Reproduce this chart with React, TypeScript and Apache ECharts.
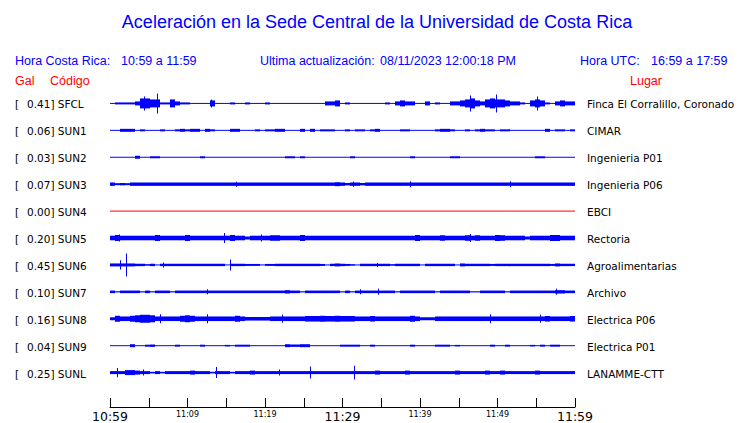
import React, { useEffect, useRef } from 'react';
import * as echarts from 'echarts';

// ---------- data ----------
const codes = ['SFCL', 'SUN1', 'SUN2', 'SUN3', 'SUN4', 'SUN5', 'SUN6', 'SUN7', 'SUN8', 'SUN9', 'SUNL'];
const galValues = ['0.41', '0.06', '0.03', '0.07', '0.00', '0.20', '0.45', '0.10', '0.16', '0.04', '0.25'];
const places = [
  'Finca El Corralillo, Coronado', 'CIMAR', 'Ingenieria P01', 'Ingenieria P06', 'EBCI',
  'Rectoria', 'Agroalimentarias', 'Archivo', 'Electrica P06', 'Electrica P01', 'LANAMME-CTT',
];
const traceColors = ['#0000ff', '#0000ff', '#0000ff', '#0000ff', '#ff0000', '#0000ff', '#0000ff', '#0000ff', '#0000ff', '#0000ff', '#0000ff'];

const timeLabels = ['10:59', '11:09', '11:19', '11:29', '11:39', '11:49', '11:59'];
const bigLabels = ['10:59', '11:29', '11:59'];

// trace envelopes (half amplitude) in 93 bins over the hour
const sfcl = [
  0, 1, 1, 1, 1, 2, 5, 5, 4, 4,
  1, 1, 4, 2, 1, 1, 0, 0, 0, 0,
  3, 0, 0, 0, 1, 0, 0, 1, 0, 0,
  0, 1, 0, 0, 0, 0, 0, 0, 0, 0,
  0, 0, 0, 2, 2, 3, 0, 1, 0, 0,
  0, 0, 0, 0, 0, 1, 0, 2, 3, 2,
  2, 0, 0, 2, 0, 1, 0, 0, 2, 2,
  3, 4, 5, 3, 2, 4, 5, 4, 4, 3,
  2, 2, 1, 0, 3, 4, 3, 1, 0, 2,
  3, 2, 2,
];
const sun1 = [
  0, 0, 1.5, 1.5, 1.5, 0, 1, 0, 0, 0,
  1, 0, 0, 1, 1.5, 1, 1.5, 1.5, 0, 1.5,
  1, 0, 0, 0, 1.5, 1.5, 0, 0, 0, 1,
  0, 1, 1, 1.5, 1.5, 0, 0, 0, 1.5, 0,
  1.5, 0, 1, 1, 1, 0, 0, 1, 0, 1,
  1, 0, 1, 1.5, 0, 0, 0, 0, 1, 1,
  0, 0, 0, 0, 0, 1, 1.5, 1.5, 1, 0,
  0, 1, 0, 1, 1.5, 1, 1, 0, 1, 1,
  0, 0, 0, 0, 0, 0, 0, 1.5, 0, 1,
  1, 0, 1,
];
const sun2 = [
  0, 0, 0, 0, 0, 1.5, 0, 0, 1, 1,
  0, 0, 0, 0, 0, 0, 0, 0, 1, 0,
  0, 0, 0, 0, 0, 0, 0, 0, 0, 0,
  0, 0, 0, 0, 0, 1, 1, 0, 1, 0,
  0, 0, 0, 0, 0, 0, 0, 0, 1, 0,
  0, 0, 0, 0, 0, 0, 0, 0, 0, 0,
  1, 0, 0, 0, 0, 0, 0, 0, 1, 1,
  0, 0, 0, 0, 0, 0, 0, 0, 0, 0,
  0, 0, 0, 0, 0, 1, 1, 0, 0, 0,
  0, 0, 0,
];
const sun3 = [
  1.7, 1, 1.2, 1, 1.7, 1.7, 1.7, 1.7, 1.7, 1.7,
  1.7, 1.7, 1.7, 1.7, 1.7, 1.7, 1.7, 1.7, 1.7, 1.7,
  1.7, 1.7, 1.7, 1.7, 1.7, 1.7, 1.7, 1.7, 1.7, 1.7,
  1.7, 1.7, 1.7, 1.7, 1.7, 1.7, 1.7, 1.7, 1.7, 1.7,
  1.7, 1.7, 1.7, 1.7, 1.7, 2, 1.7, 1.2, 1.7, 1.7,
  1.2, 1.7, 1.7, 1.7, 1.7, 1.7, 1.7, 1.7, 1.7, 1.7,
  1.7, 1.7, 1.7, 1.7, 1.7, 1.7, 1.7, 1.7, 1.7, 1.7,
  1.7, 1.7, 1.7, 1.7, 1.7, 1.7, 1.7, 1.7, 1.7, 1.7,
  1.7, 1.7, 1.7, 1.7, 1.7, 1.7, 1.7, 1.7, 1.7, 1.7,
  1.7, 1.7, 1.7,
];
const sun4 = [
  0, 0, 0, 0, 0, 0, 0, 0, 0, 0,
  0, 0, 0, 0, 0, 0, 0, 0, 0, 0,
  0, 0, 0, 0, 0, 0, 0, 0, 0, 0,
  0, 0, 0, 0, 0, 0, 0, 0, 0, 0,
  0, 0, 0, 0, 0, 0, 0, 0, 0, 0,
  0, 0, 0, 0, 0, 0, 0, 0, 0, 0,
  0, 0, 0, 0, 0, 0, 0, 0, 0, 0,
  0, 0, 0, 0, 0, 0, 0, 0, 0, 0,
  0, 0, 0, 0, 0, 0, 0, 0, 0, 0,
  0, 0, 0,
];
const sun5 = [
  2.3, 3, 2.3, 2.3, 2.3, 2.3, 2.3, 2.3, 2.3, 3,
  2.3, 2.3, 2.3, 2.3, 2.3, 3, 2.3, 2.3, 2.3, 2.3,
  2.3, 2.3, 2.3, 2.3, 3, 2.3, 2.3, 1.5, 2.3, 2.3,
  2.3, 2.3, 2.8, 2.8, 2.3, 2.3, 2.3, 2.3, 3, 2.3,
  2.3, 2.3, 2.3, 2.3, 2.3, 2.3, 2.3, 2.3, 2.3, 2.3,
  2.3, 2.3, 2.3, 2.3, 2.3, 2.3, 2.3, 2.3, 2.3, 2.3,
  2.3, 3, 2.3, 2.3, 2.3, 2.3, 2.8, 2.3, 2.3, 2.3,
  2.3, 2.8, 2.3, 2.8, 2.3, 2.3, 2.3, 3, 2.8, 2.3,
  2.3, 2.3, 2.3, 1.5, 2.3, 2.3, 2.3, 2.3, 3, 3,
  2.3, 2.3, 2.3,
];
const sun6 = [
  1.5, 1.5, 1.5, 1.5, 1.5, 1.2, 1.2, 0.8, 1.2, 0,
  1.2, 1.2, 1.2, 1.2, 1.2, 1.2, 1.2, 1.2, 1.2, 1.2,
  1.2, 1.2, 1.2, 0, 1.2, 1.2, 1.2, 1, 1, 1,
  0, 1, 1, 1.2, 1.2, 1.2, 1.2, 1.2, 1.2, 1.2,
  1.2, 1.2, 1, 0, 1.2, 1.5, 1.2, 1, 0.8, 0,
  1.2, 1.2, 1.2, 1.2, 1.2, 1.2, 0.8, 1.2, 1.2, 1.2,
  1.2, 1.2, 0.5, 1.2, 1.2, 1.2, 1.2, 1.2, 1.2, 0.5,
  1.5, 1.2, 1.2, 1.2, 1.2, 1.2, 1, 1.2, 1.2, 1.2,
  1.2, 1.2, 1.2, 1.2, 1.2, 1.2, 1.2, 1.2, 1, 1.5,
  1.2, 1.2, 1.2,
];
const sun7 = [
  1.3, 0.6, 1.3, 1.3, 1.3, 1.3, 0.6, 1.3, 0.6, 1.3,
  1.3, 1.3, 0.6, 1.3, 1.3, 1.3, 1.3, 1.3, 1.3, 1.3,
  1.3, 1.3, 1.3, 1.3, 1.3, 1.3, 1.3, 1.3, 1.3, 1.3,
  1.3, 1.3, 1.3, 1.3, 1.3, 1.7, 1.3, 1.3, 0.6, 1.3,
  1.3, 1.3, 1.3, 1.3, 1.3, 1.3, 0.6, 1.3, 0.6, 1.3,
  1.3, 1.3, 1.3, 1.3, 1.3, 1.3, 1.3, 0.6, 1.3, 1.3,
  1.3, 1.3, 1.3, 1.3, 1.3, 0.6, 1.3, 1.3, 1.3, 1.3,
  1.3, 1.3, 0.6, 0.6, 1.3, 1.3, 1.3, 1.3, 1.3, 0.6,
  1.3, 1.3, 1.3, 1.3, 1.3, 1.3, 1.3, 1.3, 1.3, 1.7,
  1.7, 1.3, 1.3,
];
const sun8 = [
  1.5, 3, 2.3, 2.3, 3, 3.5, 4, 4, 3.5, 2.3,
  2.3, 2.3, 2.3, 2.3, 3, 3.5, 3, 2.3, 2.3, 2.3,
  2.3, 2.3, 2.3, 2.3, 2.3, 3, 2.3, 1.8, 1.8, 1.8,
  1.8, 1.8, 2.3, 2.3, 2.3, 2.3, 2.3, 2.3, 2.3, 2.8,
  2.8, 2.8, 3, 2.8, 2.8, 3, 2.8, 2.8, 2.8, 2.3,
  2.3, 2.3, 2.8, 2.3, 2.3, 2.3, 2.3, 2.3, 2.3, 2.3,
  3, 2.3, 1.5, 1.5, 1.5, 2.3, 2.3, 2.3, 2.3, 2.3,
  2.3, 2.3, 2.3, 2.3, 2.3, 2.3, 2.3, 2.3, 2.3, 2.3,
  2.3, 2.3, 2.3, 2.3, 2.3, 2.3, 2.3, 2.8, 2.3, 2.3,
  2.3, 2.3, 2.8,
];
const sun9 = [
  0, 0, 0, 0, 1.5, 0, 0, 1, 1.2, 0,
  0, 0, 0, 1, 0, 0, 0, 0, 1, 0,
  0, 0, 0, 0.8, 0, 1, 1, 1, 0, 0,
  0, 0, 0, 0, 0, 1.5, 1.2, 1.2, 1.5, 1.5,
  0, 0, 0, 0, 0, 0, 1, 1, 1, 1,
  0, 0, 1, 0, 0, 0, 0, 0, 0, 0,
  1, 0, 0, 0, 0, 1, 1, 1, 0, 0.8,
  0, 0, 0, 0, 0, 0, 1, 0, 0, 1,
  0, 0, 0, 0, 0.8, 0, 1, 0, 1, 1,
  0, 0, 0,
];
const sunl = [
  1.5, 1.5, 1.5, 2.5, 2.5, 2, 1.5, 1.5, 0.8, 1.5,
  0.8, 1.5, 1.5, 1.5, 1.5, 1.5, 2, 1.5, 1.5, 1.5,
  0.8, 1.5, 1.5, 1.5, 0.8, 1.5, 1.5, 1.5, 2, 1.5,
  1.5, 1.5, 1.5, 1.5, 1.5, 1.5, 1.5, 1.5, 1.5, 1.5,
  1.5, 1.5, 1.5, 1.5, 1.5, 1.5, 1.5, 1.5, 1.5, 1.5,
  1.5, 1.5, 1.5, 2, 1.5, 1.5, 1.5, 1.5, 1.5, 2,
  1.5, 1.5, 1.5, 1.5, 1.5, 1.5, 1.5, 1.5, 1.5, 2,
  1.5, 1.5, 1.5, 1.5, 1.5, 2, 1.5, 1.5, 2, 1.5,
  1.5, 1.5, 1.5, 1.5, 1.5, 2, 1.5, 1.5, 1.5, 1.5,
  1.5, 1.5, 1.5,
];
const traces = [sfcl, sun1, sun2, sun3, sun4, sun5, sun6, sun7, sun8, sun9, sunl];

// isolated peaks: [station index, minutes after 10:59, half amplitude]
const spikes = [
  [0, 4.4, 7], [0, 6.0, 10], [0, 46.5, 8], [0, 49.8, 9], [0, 55.1, 7], [0, 13.0, 4],
  [3, 16.3, 2.5], [3, 31.4, 2.5], [3, 38.7, 3], [3, 51.6, 3],
  [5, 14.75, 5], [5, 1.2, 3.5], [5, 19.5, 3.5], [5, 46.5, 4],
  [6, 1.3, 4.7], [6, 2.0, 11.5], [6, 6.9, 2.5], [6, 15.5, 5.5], [6, 34.5, 2],
  [7, 12.5, 2.5], [7, 32.3, 2.5], [7, 34.6, 3], [7, 57.6, 3],
  [8, 12.5, 4.5], [8, 6.5, 4.5], [8, 22.15, 4], [8, 49.0, 4.5], [8, 55.5, 4],
  [10, 0.94, 4.7], [10, 4.3, 3], [10, 13.7, 5.5], [10, 21.85, 3], [10, 25.8, 6], [10, 31.5, 7],
];

// ---------- layout ----------
const W = 740;
const H = 423;
const GRID_LEFT = 110;
const GRID_RIGHT_X = 575;
const AXIS_Y = 408;
const ROW0_Y = 103.5;
const ROW_STEP = 27;
const DURATION = 60; // minutes
const BLUE = '#0000ff';
const RED = '#ff0000';

export default function App() {
  const ref = useRef<HTMLDivElement>(null);

  useEffect(() => {
    if (!ref.current) return;
    const chart = echarts.init(ref.current, undefined, { renderer: 'svg', width: W, height: H });
    const nBins = sfcl.length;
    const binMin = DURATION / nBins;
    const ampUnit = 1 / ROW_STEP;
    const yMax = (AXIS_Y - ROW0_Y) / ROW_STEP;

    const series: any[] = traces.map((tr, row) => ({
      type: 'custom',
      name: codes[row],
      coordinateSystem: 'cartesian2d',
      silent: true,
      clip: false,
      data: tr.map((a, i) => [i, row, a]),
      renderItem: (_p: any, api: any) => {
        const bin = api.value(0);
        const r = api.value(1);
        const amp = api.value(2);
        const c0 = api.coord([bin * binMin, r]);
        const c1 = api.coord([(bin + 1) * binMin, r]);
        const ct = api.coord([bin * binMin, r - amp * ampUnit]);
        const h = Math.max(1, 2 * (c0[1] - ct[1]));
        return {
          type: 'rect',
          shape: { x: c0[0], y: c0[1] - h / 2, width: c1[0] - c0[0], height: h },
          style: { fill: traceColors[r] },
        };
      },
    }));

    series.push({
      type: 'custom',
      name: 'peaks',
      coordinateSystem: 'cartesian2d',
      silent: true,
      clip: false,
      data: spikes,
      renderItem: (_p: any, api: any) => {
        const r = api.value(0);
        const t = api.value(1);
        const amp = api.value(2);
        const c0 = api.coord([t, r]);
        const ct = api.coord([t, r - amp * ampUnit]);
        const h = 2 * (c0[1] - ct[1]);
        return {
          type: 'rect',
          shape: { x: Math.round(c0[0]), y: c0[1] - h / 2, width: 1, height: h },
          style: { fill: traceColors[r] },
        };
      },
    });

    const txt = (text: string, x: number, y: number, fill: string, size: number, family: string, align = 'left') => ({
      type: 'text',
      x,
      y,
      silent: true,
      style: { text, fill, fontSize: size, fontFamily: family, align, verticalAlign: 'middle' },
    });

    const hdr = 'Liberation Sans';
    const mono = 'DejaVu Sans';
    const graphics: any[] = [
      txt('Aceleración en la Sede Central de la Universidad de Costa Rica', 377, 22, BLUE, 18, hdr, 'center'),
      txt('Hora Costa Rica:', 15, 61, BLUE, 12.5, hdr),
      txt('10:59 a 11:59', 121, 61, BLUE, 12.5, hdr),
      txt('Ultima actualización:', 260, 61, BLUE, 12.5, hdr),
      txt('08/11/2023 12:00:18 PM', 380, 61, BLUE, 12.5, hdr),
      txt('Hora UTC:', 580, 61, BLUE, 12.5, hdr),
      txt('16:59 a 17:59', 651, 61, BLUE, 12.5, hdr),
      txt('Gal', 15, 81, RED, 12.5, hdr),
      txt('Código', 50, 81, RED, 12.5, hdr),
      txt('Lugar', 630, 81, RED, 12.5, hdr),
    ];
    codes.forEach((c, i) => {
      const y = ROW0_Y + i * ROW_STEP;
      graphics.push(txt('[', 15, y, '#000', 10.5, mono));
      graphics.push(txt(`${galValues[i]}] ${c}`, 27, y, '#000', 10.5, mono));
      graphics.push(txt(places[i], 587, y, '#000', 10.5, mono));
    });

    chart.setOption({
      animation: false,
      backgroundColor: '#ffffff',
      grid: {
        left: GRID_LEFT,
        right: W - GRID_RIGHT_X,
        top: ROW0_Y - ROW_STEP,
        bottom: H - AXIS_Y,
        containLabel: false,
      },
      xAxis: {
        type: 'value',
        position: 'bottom',
        min: 0,
        max: DURATION,
        interval: 5,
        splitLine: { show: false },
        axisLine: { show: true, onZero: false, lineStyle: { color: '#000', width: 1 } },
        axisTick: { show: true, inside: true, length: 9, lineStyle: { color: '#000', width: 1 } },
        axisLabel: {
          show: true,
          margin: 3,
          showMinLabel: true,
          showMaxLabel: true,
          formatter: (v: number) => {
            if (v % 10 !== 0) return '';
            const lab = timeLabels[v / 10];
            if (!lab) return '';
            return bigLabels.includes(lab) ? `{big|${lab}}` : `{small|${lab}}`;
          },
          rich: {
            big: { fontSize: 12.5, fontFamily: mono, color: '#000', lineHeight: 14, verticalAlign: 'top' },
            small: { fontSize: 8, fontFamily: mono, color: '#000', lineHeight: 14, verticalAlign: 'top' },
          },
        },
      },
      yAxis: {
        type: 'value',
        inverse: true,
        min: -1,
        max: yMax,
        show: false,
      },
      series,
      graphic: graphics,
    });
    return () => chart.dispose();
  }, []);

  return <div ref={ref} style={{ position: 'fixed', left: 0, top: 0, width: W, height: H, background: '#fff' }} />;
}
